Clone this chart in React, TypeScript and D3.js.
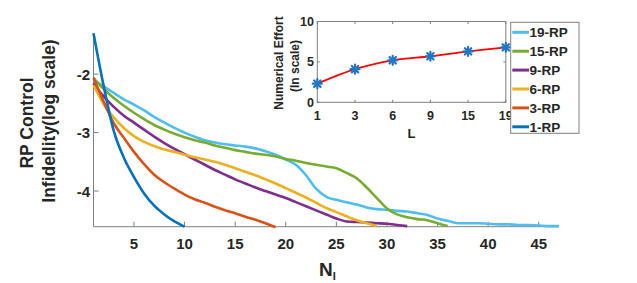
import React from "react";
import * as d3 from "d3";

// ---- Data ----
const seriesNames = ["19-RP", "15-RP", "9-RP", "6-RP", "3-RP", "1-RP"];
const seriesColors = ["#4DBEEE", "#77AC30", "#7E2F8E", "#EDB120", "#D95319", "#0072BD"];

const rp19 = [-2.1, -2.21, -2.32, -2.43, -2.52, -2.62, -2.73, -2.83, -2.92, -3.0, -3.07, -3.13, -3.17, -3.2, -3.22, -3.24, -3.27, -3.32, -3.38, -3.46, -3.55, -3.73, -3.96, -4.1, -4.15, -4.19, -4.23, -4.28, -4.31, -4.32, -4.34, -4.35, -4.38, -4.41, -4.47, -4.51, -4.55, -4.55, -4.55, -4.56, -4.57, -4.57, -4.58, -4.58, -4.59, -4.6, -4.6];
const rp15 = [-2.07, -2.25, -2.41, -2.54, -2.66, -2.77, -2.87, -2.95, -3.02, -3.08, -3.13, -3.17, -3.22, -3.26, -3.3, -3.33, -3.36, -3.38, -3.41, -3.45, -3.48, -3.52, -3.55, -3.58, -3.61, -3.69, -3.78, -3.94, -4.12, -4.3, -4.4, -4.45, -4.48, -4.5, -4.55, -4.6];
const rp9 = [-2.16, -2.38, -2.56, -2.71, -2.83, -2.95, -3.07, -3.18, -3.28, -3.37, -3.46, -3.55, -3.64, -3.72, -3.8, -3.87, -3.94, -4.0, -4.06, -4.12, -4.19, -4.26, -4.33, -4.4, -4.47, -4.52, -4.53, -4.54, -4.55, -4.56, -4.58, -4.6];
const rp6 = [-2.19, -2.51, -2.74, -2.92, -3.06, -3.16, -3.23, -3.29, -3.33, -3.38, -3.42, -3.46, -3.5, -3.55, -3.61, -3.67, -3.73, -3.8, -3.87, -3.95, -4.03, -4.11, -4.2, -4.29, -4.36, -4.43, -4.5, -4.55, -4.6];
const rp3 = [-2.06, -2.47, -2.84, -3.09, -3.33, -3.54, -3.72, -3.85, -3.96, -4.06, -4.14, -4.2, -4.27, -4.33, -4.38, -4.44, -4.49, -4.55, -4.62];
const rp1 = [-1.3, -2.2, -2.97, -3.43, -3.76, -4.04, -4.25, -4.4, -4.52, -4.61];
const seriesValues = [rp19, rp15, rp9, rp6, rp3, rp1];

const xTicks = [5, 10, 15, 20, 25, 30, 35, 40, 45];
const yTicks = [-2, -3, -4];

const insetCategories = ["1", "3", "6", "9", "15", "19"];
const insetValues = [2.3, 4.1, 5.2, 5.7, 6.3, 6.8];
const insetYTicks = [0, 5, 10];

const FONT = "'Liberation Sans', Arial, Helvetica, sans-serif";
const TXT = "#262626";
const AX = "#7f7f7f";

function Asterisk({ x, y, r, color }: { x: number; y: number; r: number; color: string }) {
  const lines = [0, 45, 90, 135].map((a) => {
    const rad = (a * Math.PI) / 180;
    return (
      <line
        key={a}
        x1={x - r * Math.cos(rad)}
        y1={y - r * Math.sin(rad)}
        x2={x + r * Math.cos(rad)}
        y2={y + r * Math.sin(rad)}
        stroke={color}
        strokeWidth={2.2}
        strokeLinecap="round"
      />
    );
  });
  return <g>{lines}</g>;
}

export default function App() {
  const W = 637, H = 283;
  const x = d3.scaleLinear().domain([1, 47]).range([93.5, 559]);
  const y = d3.scaleLinear().domain([-4.61, -1.33]).range([226.7, 35]);
  const line = d3
    .line<[number, number]>()
    .x((d) => x(d[0]))
    .y((d) => y(d[1]))
    .curve(d3.curveMonotoneX);

  // inset
  const ix = d3.scalePoint().domain(insetCategories).range([317.3, 505.8]);
  const iy = d3.scaleLinear().domain([0, 10]).range([102.3, 21.5]);
  const iline = d3
    .line<number>()
    .x((_, i) => ix(insetCategories[i]) as number)
    .y((d) => iy(d))
    .curve(d3.curveMonotoneX);

  const x0 = x.range()[0], x1 = x.range()[1];
  const y0 = y.range()[0], y1 = y.range()[1];
  const ix0 = 317.3, ix1 = 505.8, iy0 = 102.3, iy1 = 21.5;

  return (
    <svg width={W} height={H} style={{ position: "absolute", left: 0, top: 0, background: "#fff" }} fontFamily={FONT}>
      <rect width={W} height={H} fill="#fff" />
      {/* main axes */}
      <line x1={x0} y1={y0} x2={x1} y2={y0} stroke={AX} strokeWidth={1} />
      <line x1={x0} y1={y0} x2={x0} y2={y1} stroke={AX} strokeWidth={1} />
      {xTicks.map((t) => (
        <g key={t}>
          <line x1={x(t)} x2={x(t)} y1={y0} y2={y0 - 5} stroke={AX} />
          <text x={x(t)} y={248.5} textAnchor="middle" fontSize={15} fontWeight="bold" fill={TXT}>
            {t}
          </text>
        </g>
      ))}
      {yTicks.map((t) => (
        <g key={t}>
          <line x1={x0} x2={x0 + 5} y1={y(t)} y2={y(t)} stroke={AX} />
          <text x={90} y={y(t) + 5.5} textAnchor="end" fontSize={15} fontWeight="bold" fill={TXT}>
            {t}
          </text>
        </g>
      ))}
      {/* series */}
      {seriesValues.map((vals, si) => (
        <path
          key={seriesNames[si]}
          d={line(vals.map((v, i) => [i + 1, v] as [number, number])) || ""}
          fill="none"
          stroke={seriesColors[si]}
          strokeWidth={2.6}
          strokeLinejoin="round"
        />
      ))}
      {/* axis labels */}
      <text transform="translate(33,123) rotate(-90)" textAnchor="middle" fontSize={17.5} fontWeight="bold" fill={TXT}>
        RP Control
      </text>
      <text transform="translate(55,121) rotate(-90)" textAnchor="middle" fontSize={17.5} fontWeight="bold" fill={TXT}>
        Infidellity(log scale)
      </text>
      <text x={319} y={276} fontSize={19} fontWeight="bold" fill={TXT}>
        N<tspan fontSize={11} dy={4}>I</tspan>
      </text>

      {/* inset */}
      <rect x={ix0} y={iy1} width={ix1 - ix0} height={iy0 - iy1} fill="#fff" stroke={AX} strokeWidth={1} />
      {insetCategories.map((c) => (
        <g key={c}>
          <line x1={ix(c)} x2={ix(c)} y1={iy0} y2={iy0 - 2.5} stroke={AX} />
          <line x1={ix(c)} x2={ix(c)} y1={iy1} y2={iy1 + 2.5} stroke={AX} />
          <text x={ix(c) as number} y={119.5} textAnchor="middle" fontSize={12.5} fontWeight="bold" fill={TXT}>
            {c}
          </text>
        </g>
      ))}
      {insetYTicks.map((t) => (
        <g key={t}>
          <line x1={ix0} x2={ix0 + 2.5} y1={iy(t)} y2={iy(t)} stroke={AX} />
          <line x1={ix1} x2={ix1 - 2.5} y1={iy(t)} y2={iy(t)} stroke={AX} />
          <text x={314} y={iy(t) + 4.5} textAnchor="end" fontSize={12.5} fontWeight="bold" fill={TXT}>
            {t}
          </text>
        </g>
      ))}
      <path d={iline(insetValues) || ""} fill="none" stroke="#ff0000" strokeWidth={1.8} />
      {insetValues.map((v, i) => (
        <Asterisk key={i} x={ix(insetCategories[i]) as number} y={iy(v)} r={4.5} color="#1f77c4" />
      ))}
      <text transform="translate(282.5,63) rotate(-90)" textAnchor="middle" fontSize={12} fontWeight="bold" fill={TXT}>
        Numerical Effort
      </text>
      <text transform="translate(299,66) rotate(-90)" textAnchor="middle" fontSize={12} fontWeight="bold" fill={TXT}>
        (In scale)
      </text>
      <text x={411.5} y={138} textAnchor="middle" fontSize={13} fontWeight="bold" fill={TXT}>
        L
      </text>

      {/* legend */}
      <rect x={510.7} y={22.3} width={68.3} height={111} fill="#fff" stroke={AX} strokeWidth={1} />
      {seriesNames.map((n, i) => {
        const cy = 32.3 + i * 18.9;
        return (
          <g key={n}>
            <line x1={512.3} x2={529} y1={cy} y2={cy} stroke={seriesColors[i]} strokeWidth={3} />
            <text x={529.5} y={cy + 5} fontSize={13.5} fontWeight="bold" fill={TXT}>
              {n}
            </text>
          </g>
        );
      })}
    </svg>
  );
}
